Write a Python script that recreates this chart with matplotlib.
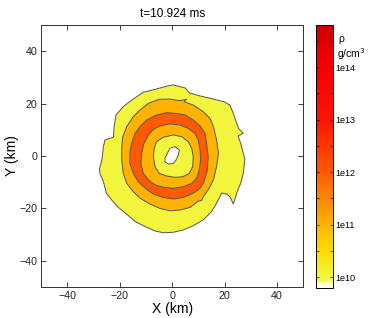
import numpy as np
import matplotlib
matplotlib.use("Agg")
import matplotlib.pyplot as plt
from matplotlib.colors import LinearSegmentedColormap, Normalize
from matplotlib.cm import ScalarMappable
from matplotlib.ticker import FixedLocator

plt.rcParams['font.family'] = ['Liberation Sans', 'DejaVu Sans']

# contour levels, log10(rho / g cm^-3)
levels = [10, 11, 12]
rho_min, rho_max = 9.8, 14.8

# rho = 1e10 outer edge (km)
outer10_x = [-1.5, 0.4, 3.6, 5.0, 6.5, 10.6, 15.7, 19.7, 22.0, 23.3, 24.6, 25.3, 27.1, 25.1,
             26.1, 27.7, 27.1, 26.1, 24.8, 23.3, 22.0, 20.7, 18.8, 18.2, 16.9, 15.0, 11.8,
             8.0, 4.2, 0.4, -3.4, -6.6, -9.8, -14.2, -17.4, -20.6, -23.1, -25.1, -26.3,
             -27.6, -27.8, -26.9, -26.3, -25.7, -22.5, -22.2, -21.5, -18.7, -15.5, -11.1, -6.6]
outer10_y = [26.8, 27.1, 26.3, 25.9, 24.1, 22.9, 21.7, 20.7, 19.4, 16.2, 12.4, 10.5, 8.6, 7.6,
             4.8, -1.3, -6.7, -10.5, -13.7, -18.4, -15.6, -14.6, -14.2, -15.6, -18.1, -21.3,
             -24.5, -26.7, -28.3, -29.2, -29.4, -28.7, -27.3, -25.1, -22.3, -19.7, -16.9,
             -14.3, -9.9, -6.7, -5.0, -1.6, 3.5, 6.1, 7.1, 11.2, 15.6, 18.8, 21.3, 24.3, 25.4]

# rho = 1e11 outer edge
outer11_x = [-5.0, -0.9, 2.9, 4.0, 5.5, 4.5, 8.0, 11.8, 14.4, 15.7, 16.9, 17.6, 16.9, 15.7,
             13.7, 11.8, 11.2, 9.9, 6.8, 2.9, -0.9, -4.7, -8.5, -12.3, -14.9, -17.4, -18.7,
             -19.3, -19.3, -18.9, -17.4, -14.9, -12.3, -9.1]
outer11_y = [21.6, 21.7, 21.1, 21.3, 21.6, 20.7, 19.4, 16.9, 14.3, 11.2, 6.1, 1.0, -4.1, -9.2,
             -13.0, -15.6, -17.1, -17.3, -19.7, -20.7, -21.0, -20.1, -18.4, -16.2, -13.7,
             -10.5, -6.7, -1.6, 3.5, 7.3, 11.2, 15.0, 17.5, 20.1]

# rho = 1e12 outer edge
outer12_x = [-6.0, -2.2, 1.7, 4.9, 8.0, 10.6, 12.5, 13.1, 13.7, 13.4, 12.1, 10.6, 8.0, 4.2,
             0.4, -3.4, -7.2, -9.8, -13.0, -14.9, -16.2, -16.2, -15.5, -14.2, -12.3, -9.8]
outer12_y = [15.6, 16.5, 16.2, 15.6, 13.7, 11.4, 8.6, 4.8, -0.3, -5.4, -9.9, -12.4, -14.3,
             -15.9, -16.5, -15.9, -14.6, -12.8, -9.9, -6.7, -2.9, 1.0, 4.8, 8.6, 11.2, 13.7]

# rho = 1e12 inner edge
inner12_x = [-4.7, -0.9, 2.9, 6.1, 8.6, 9.9, 10.6, 10.8, 10.3, 9.3, 7.4, 4.2, 0.4, -3.4,
             -6.6, -9.1, -11.1, -12.0, -11.7, -10.8, -9.1, -7.2]
inner12_y = [11.4, 12.2, 11.8, 10.5, 8.6, 6.1, 2.2, -1.6, -5.4, -8.6, -10.5, -11.8, -12.4,
             -12.0, -11.1, -9.2, -6.7, -2.9, 1.0, 4.8, 8.0, 10.1]

# rho = 1e11 inner edge
inner11_x = [-3.4, 0.4, 3.6, 6.1, 7.4, 8.0, 7.8, 6.5, 4.0, 1.0, -2.2, -5.0, -6.6, -7.2, -6.9, -6.0]
inner11_y = [7.1, 8.0, 7.3, 5.4, 2.9, -0.3, -4.1, -6.7, -8.0, -8.2, -7.7, -6.7, -4.1, -0.3, 2.9, 5.4]

# rho = 1e10 inner edge (central hole)
inner10_x = [-2.2, -0.9, 1.0, 2.7, 2.3, 1.4, 0.4, -1.5, -2.8, -2.8]
inner10_y = [0.3, 2.9, 3.5, 2.2, 0.3, -1.6, -2.9, -3.1, -2.2, -0.9]

cb_ticks = [10, 11, 12, 13, 14]
cb_labels = ["1e10", "1e11", "1e12", "1e13", "1e14"]
cb_minor = [10.5, 11.5, 12.5, 13.5, 14.5]

# colour nodes in log10(rho)
cmap_nodes = [
    (9.80, (1.00, 1.00, 1.00)),
    (9.87, (1.00, 1.00, 0.80)),
    (9.95, (0.95, 0.96, 0.25)),
    (10.05, (0.95, 0.96, 0.22)),
    (10.5, (1.00, 0.86, 0.00)),
    (11.0, (1.00, 0.70, 0.00)),
    (11.5, (1.00, 0.52, 0.00)),
    (12.0, (1.00, 0.35, 0.00)),
    (13.0, (1.00, 0.08, 0.00)),
    (14.0, (0.97, 0.00, 0.00)),
    (14.8, (0.80, 0.00, 0.00)),
]
norm = Normalize(rho_min, rho_max)
cmap = LinearSegmentedColormap.from_list(
    "rho", [(float(norm(v)), c) for v, c in cmap_nodes], N=256)

fig = plt.figure(figsize=(3.74, 3.18), dpi=100)
ax = fig.add_axes([0.1104, 0.0984, 0.7005, 0.823])
cax = fig.add_axes([0.845, 0.0953, 0.0446, 0.826])

yellow = cmap(norm(levels[0]))
orange = cmap(norm(levels[1]))
redor = cmap(norm(levels[2]))
edge = dict(edgecolor="#555555", linewidth=0.7)
# nested regions, outermost first
ax.fill(outer10_x, outer10_y, facecolor=yellow, zorder=1, **edge)
ax.fill(outer11_x, outer11_y, facecolor=orange, zorder=2, **edge)
ax.fill(outer12_x, outer12_y, facecolor=redor, zorder=3, **edge)
ax.fill(inner12_x, inner12_y, facecolor=orange, zorder=4, **edge)
ax.fill(inner11_x, inner11_y, facecolor=yellow, zorder=5, **edge)
ax.fill(inner10_x, inner10_y, facecolor="white", zorder=6, **edge)

ax.set_xlim(-50, 50)
ax.set_ylim(-50, 50)
ax.set_xticks([-40, -20, 0, 20, 40])
ax.set_yticks([-40, -20, 0, 20, 40])
ax.set_xticklabels(["\u221240", "\u221220", "0", "20", "40"])
ax.set_yticklabels(["\u221240", "\u221220", "0", "20", "40"])
ax.tick_params(direction="in", length=3.5, width=0.6, top=True, right=True,
               labelsize=7.7, pad=3, colors="#222222")
for s in ax.spines.values():
    s.set_linewidth(0.7)
    s.set_color("#333333")
    s.set_zorder(10)
ax.set_xlabel("X (km)", fontsize=10, labelpad=1)
ax.set_ylabel("Y (km)", fontsize=10, labelpad=0)
ax.set_title("t=10.924 ms", fontsize=8.5, pad=6)

cb = fig.colorbar(ScalarMappable(norm=norm, cmap=cmap), cax=cax)
cb.set_ticks(cb_ticks)
cb.set_ticklabels(cb_labels)
cb.ax.yaxis.set_minor_locator(FixedLocator(cb_minor))
cb.ax.tick_params(which="both", direction="in", length=2.5, width=0.5, left=True,
                  right=True, labelsize=6.5, pad=2)
cb.outline.set_linewidth(0.7)
fig.text(0.905, 0.868, "\u03c1", fontsize=7.5)
fig.text(0.900, 0.818, "g/cm$^3$", fontsize=7.5)

fig.savefig("out.png", dpi=100)
